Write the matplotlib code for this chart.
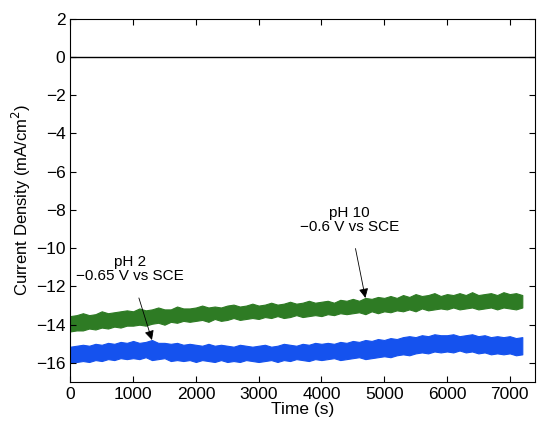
import numpy as np
import matplotlib.pyplot as plt

plt.rcParams['font.family'] = ['Liberation Sans', 'DejaVu Sans']

# time axis (s), one envelope point every 100 s
time_s = list(range(0, 7300, 100))

# pH 10, -0.6 V vs SCE (green band)
green_upper = [-13.55, -13.5, -13.4, -13.5, -13.45, -13.3, -13.4, -13.35, -13.3, -13.25,
               -13.3, -13.15, -13.25, -13.2, -13.1, -13.2, -13.2, -13.05, -13.15, -13.15,
               -13.1, -13.0, -13.1, -13.05, -13.1, -13.0, -12.95, -13.05, -13.0, -12.9,
               -13.0, -12.95, -12.85, -12.95, -12.9, -12.8, -12.9, -12.85, -12.75, -12.85,
               -12.8, -12.75, -12.85, -12.7, -12.75, -12.65, -12.75, -12.6, -12.65, -12.55,
               -12.6, -12.5, -12.6, -12.45, -12.55, -12.4, -12.5, -12.45, -12.35, -12.5,
               -12.4, -12.45, -12.35, -12.45, -12.3, -12.45, -12.4, -12.35, -12.45, -12.3,
               -12.4, -12.35, -12.45]
green_lower = [-14.35, -14.3, -14.3, -14.2, -14.25, -14.15, -14.2, -14.1, -14.15, -14.05,
               -14.05, -14.0, -14.05, -13.95, -13.9, -14.0, -13.85, -13.9, -13.8, -13.85,
               -13.8, -13.75, -13.85, -13.7, -13.8, -13.75, -13.65, -13.75, -13.7, -13.65,
               -13.7, -13.6, -13.65, -13.55, -13.65, -13.6, -13.5, -13.6, -13.55, -13.5,
               -13.55, -13.45, -13.5, -13.4, -13.45, -13.4, -13.35, -13.45, -13.3, -13.4,
               -13.3, -13.35, -13.25, -13.3, -13.2, -13.3, -13.15, -13.25, -13.2, -13.15,
               -13.2, -13.1, -13.2, -13.15, -13.1, -13.2, -13.15, -13.1, -13.2, -13.1,
               -13.15, -13.2, -13.1]

# pH 2, -0.65 V vs SCE (blue band)
blue_upper = [-15.15, -15.1, -15.05, -15.1, -15.0, -15.05, -14.95, -15.0, -14.9, -14.95,
              -14.85, -14.95, -14.9, -14.8, -14.95, -14.95, -15.0, -14.95, -15.05, -15.0,
              -15.05, -15.1, -15.0, -15.1, -15.05, -15.1, -15.15, -15.05, -15.1, -15.15,
              -15.1, -15.05, -15.15, -15.1, -15.0, -15.05, -15.1, -15.0, -15.05, -14.95,
              -15.0, -14.95, -15.0, -14.9, -14.95, -14.85, -14.9, -14.8, -14.85, -14.75,
              -14.8, -14.7, -14.75, -14.65, -14.6, -14.65, -14.55, -14.6, -14.5, -14.55,
              -14.55, -14.5, -14.6, -14.55, -14.5, -14.6, -14.55, -14.65, -14.6, -14.65,
              -14.6, -14.7, -14.65]
blue_lower = [-16.0, -15.95, -15.9, -15.95, -15.85, -15.9, -15.8, -15.85, -15.75, -15.8,
              -15.75, -15.8, -15.7, -15.85, -15.8, -15.75, -15.9, -15.85, -15.9, -15.85,
              -15.95, -15.85, -15.9, -15.95, -15.85, -15.95, -15.9, -15.95, -15.85, -15.9,
              -15.95, -15.9, -15.85, -15.95, -15.85, -15.9, -15.8, -15.85, -15.9, -15.8,
              -15.85, -15.8, -15.75, -15.85, -15.8, -15.75, -15.7, -15.8, -15.75, -15.7,
              -15.65, -15.7, -15.6, -15.55, -15.6, -15.5, -15.45, -15.5, -15.4, -15.45,
              -15.4, -15.45, -15.35, -15.45, -15.4, -15.5, -15.45, -15.55, -15.5, -15.55,
              -15.5, -15.6, -15.55]

x_ticks = [0, 1000, 2000, 3000, 4000, 5000, 6000, 7000]
y_ticks = [2, 0, -2, -4, -6, -8, -10, -12, -14, -16]

fig = plt.figure(figsize=(5.37, 4.25), dpi=100)
ax = fig.add_axes([0.131, 0.101, 0.865, 0.855])

green = '#2e7b24'
blue = '#1552ee'

ax.fill_between(time_s, green_lower, green_upper, color=green, lw=0.8, edgecolor=green)
ax.fill_between(time_s, blue_lower, blue_upper, color=blue, lw=0.8, edgecolor=blue)
ax.axhline(0, color='black', lw=1.0)

ax.annotate('pH 2\n\u22120.65 V vs SCE', xy=(1300, -14.8), xytext=(950, -11.1),
            ha='center', va='center', fontsize=11, linespacing=1.0,
            arrowprops=dict(arrowstyle='-|>', color='black', lw=0.6,
                            mutation_scale=14, shrinkA=9, shrinkB=0))
ax.annotate('pH 10\n\u22120.6 V vs SCE', xy=(4700, -12.6), xytext=(4450, -8.5),
            ha='center', va='center', fontsize=11, linespacing=1.0,
            arrowprops=dict(arrowstyle='-|>', color='black', lw=0.6,
                            mutation_scale=14, shrinkA=9, shrinkB=0))

ax.set_xlim(0, 7400)
ax.set_ylim(-17, 2)
ax.set_xticks(x_ticks)
ax.set_yticks(y_ticks)
ax.set_yticklabels([str(v).replace('-', '\u2212') for v in y_ticks])
ax.tick_params(direction='in', top=True, right=True, labelsize=12.5, length=4)
ax.set_xlabel('Time (s)', fontsize=12.5, labelpad=0)
ax.set_ylabel('Current Density (mA/cm$^2$)', fontsize=12, labelpad=2)

fig.savefig('out.png', dpi=100)
